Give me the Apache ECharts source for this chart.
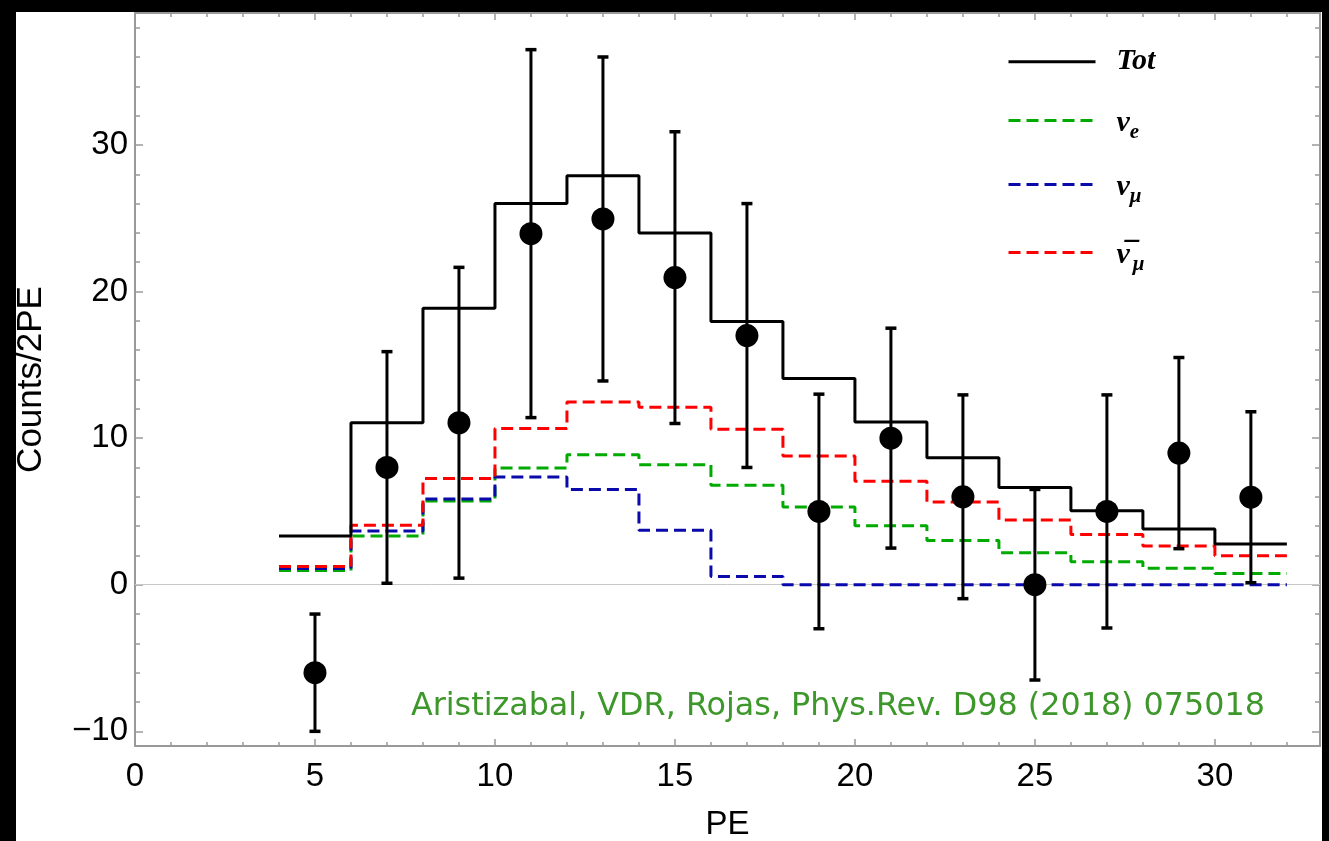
<!DOCTYPE html>
<html><head><meta charset="utf-8">
<script src="https://cdn.jsdelivr.net/npm/echarts@6/dist/echarts.min.js"></script>
<style>
html,body{margin:0;padding:0;background:#000;width:1329px;height:841px;overflow:hidden;}
#chart{position:absolute;left:16px;top:12px;width:1306px;height:829px;background:#fff;}
</style></head><body><div id="chart"></div>
<script>
// ---- data ----
const binEdges = [4, 6, 8, 10, 12, 14, 16, 18, 20, 22, 24, 26, 28, 30, 32];
const totCounts = [3.32, 11.05, 18.86, 26.0, 27.9, 24.0, 17.95, 14.06, 11.1, 8.67, 6.64, 5.05, 3.8, 2.78];
const nuECounts = [0.97, 3.32, 5.71, 7.96, 8.87, 8.19, 6.78, 5.3, 4.02, 3.02, 2.18, 1.57, 1.13, 0.77];
const nuMuCounts = [1.1, 3.66, 5.85, 7.35, 6.5, 3.71, 0.57, 0, 0, 0, 0, 0, 0, 0];
const nuMuBarCounts = [1.25, 4.05, 7.25, 10.65, 12.46, 12.1, 10.6, 8.78, 7.06, 5.64, 4.42, 3.42, 2.64, 1.98];

const dataPE = [5, 7, 9, 11, 13, 15, 17, 19, 21, 23, 25, 27, 29, 31];
const dataCounts = [-6, 8, 11.05, 23.95, 24.95, 20.95, 17, 5, 10, 6, 0, 5, 8.98, 5.97];
const dataErrors = [4, 7.9, 10.6, 12.55, 11.05, 9.95, 9, 8, 7.5, 6.95, 6.5, 7.95, 6.52, 5.83];

const xMajorTicks = [0, 5, 10, 15, 20, 25, 30];
const xMinorTicks = [0,1,2,3,4,5,6,7,8,9,10,11,12,13,14,15,16,17,18,19,20,21,22,23,24,25,26,27,28,29,30,31,32];
const yMajorTicks = [-10, 0, 10, 20, 30];
const yMinorTicks = [-10,-8,-6,-4,-2,0,2,4,6,8,10,12,14,16,18,20,22,24,26,28,30,32,34,36,38];

const legendNames = ['Tot', 'nu_e', 'nu_mu', 'nubar_mu'];
const citation = 'Aristizabal, VDR, Rojas, Phys.Rev. D98 (2018) 075018';

// ---- build ----
function stepData(counts) {
  const d = counts.map((v, i) => [binEdges[i], v]);
  d.push([binEdges[binEdges.length - 1], counts[counts.length - 1]]);
  return d;
}
const frameColor = '#999';
const labelFont = 'Liberation Sans';
const fmt = v => String(v).replace('-', '\u2212');

function xAx(pos, ticks, len, main) {
  return {
    type: 'value', position: pos, min: 0, max: 32.92,
    axisLine: { show: main, onZero: false, lineStyle: { color: frameColor, width: 2 } },
    axisTick: { show: true, inside: true, length: len, customValues: ticks, lineStyle: { color: frameColor, width: 1.5 } },
    axisLabel: { show: main && pos === 'bottom', customValues: xMajorTicks, formatter: fmt, fontSize: 33, color: '#000', margin: 14, fontFamily: labelFont },
    splitLine: { show: false },
    name: (main && pos === 'bottom') ? 'PE' : '',
    nameLocation: 'middle', nameGap: 62,
    nameTextStyle: { fontSize: 33, color: '#000', fontFamily: labelFont }
  };
}
function yAx(pos, ticks, len, main) {
  return {
    type: 'value', position: pos, min: -11, max: 39,
    axisLine: { show: main, onZero: false, lineStyle: { color: frameColor, width: 2 } },
    axisTick: { show: true, inside: true, length: len, customValues: ticks, lineStyle: { color: frameColor, width: 1.5 } },
    axisLabel: { show: main && pos === 'left', customValues: yMajorTicks, formatter: fmt, fontSize: 33, color: '#000', margin: 7, fontFamily: labelFont },
    splitLine: { show: false },
    name: (main && pos === 'left') ? 'Counts/2PE' : '',
    nameLocation: 'middle', nameGap: 86,
    nameTextStyle: { fontSize: 35, color: '#000', fontFamily: labelFont }
  };
}

const dash = [12, 6];
const legendText = {
  'Tot': '{nu|Tot}',
  'nu_e': '{nu|ν}{sub|e}',
  'nu_mu': '{nu|ν}{sub|μ}',
  'nubar_mu': '{nu|ν\u0305}{sp| }{sub|μ}'
};
const legendTops = [34.7, 94, 158, 226];
const richStyles = {
  nu: { fontFamily: 'Liberation Serif', fontSize: 30, lineHeight: 40, fontWeight: 'bold', fontStyle: 'italic', color: '#000' },
  sp: { fontFamily: 'Liberation Serif', fontSize: 12, lineHeight: 40 },
  sub: { fontFamily: 'Liberation Serif', fontSize: 21, lineHeight: 26, verticalAlign: 'bottom', fontWeight: 'bold', fontStyle: 'italic', color: '#000' }
};
const legends = legendNames.map((n, i) => ({
  orient: 'vertical', left: 991, top: legendTops[i], padding: 0,
  itemWidth: 87, itemHeight: 36,
  data: [n],
  formatter: nm => legendText[nm],
  itemStyle: { opacity: 0 },
  lineStyle: { width: 3 },
  textStyle: { padding: [i === 0 ? 0 : 6, 0, 0, 16], color: '#000', rich: richStyles }
}));

const chart = echarts.init(document.getElementById('chart'), null, { renderer: 'canvas' });
chart.setOption({
  animation: false,
  backgroundColor: '#fff',
  grid: { left: 119, right: 2, top: 1, bottom: 95, containLabel: false, outerBoundsMode: 'none' },
  xAxis: [xAx('bottom', xMajorTicks, 7, true), xAx('bottom', xMinorTicks, 4, false),
          xAx('top', xMajorTicks, 7, true), xAx('top', xMinorTicks, 4, false)],
  yAxis: [yAx('left', yMajorTicks, 8, true), yAx('left', yMinorTicks, 5, false),
          yAx('right', yMajorTicks, 8, true), yAx('right', yMinorTicks, 5, false)],
  legend: legends,
  graphic: [{
    type: 'text', x: 1249, y: 695,
    style: { text: citation, fill: '#3d972a', fontSize: 31.8, fontFamily: 'DejaVu Sans', align: 'right', verticalAlign: 'middle' }
  }],
  series: [
    {
      name: 'nu_e', type: 'line', step: 'end', data: stepData(nuECounts), symbol: 'none',
      lineStyle: { color: '#00aa00', width: 3, type: dash }, itemStyle: { color: '#00aa00' },
      markLine: { silent: true, symbol: 'none', label: { show: false }, lineStyle: { color: '#c8c8c8', width: 1, type: 'solid' }, data: [{ yAxis: 0 }], z: 1 },
      z: 3
    },
    {
      name: 'nu_mu', type: 'line', step: 'end', data: stepData(nuMuCounts), symbol: 'none',
      lineStyle: { color: '#0a0aaa', width: 3, type: dash }, itemStyle: { color: '#0a0aaa' }, z: 4
    },
    {
      name: 'nubar_mu', type: 'line', step: 'end', data: stepData(nuMuBarCounts), symbol: 'none',
      lineStyle: { color: '#ff0000', width: 3, type: dash }, itemStyle: { color: '#ff0000' }, z: 5
    },
    {
      name: 'Tot', type: 'line', step: 'end', data: stepData(totCounts), symbol: 'none',
      lineStyle: { color: '#000', width: 3, type: 'solid' }, itemStyle: { color: '#000' }, z: 6
    },
    {
      name: 'errors', type: 'custom', z: 7,
      data: dataPE.map((x, i) => [x, dataCounts[i], dataErrors[i]]),
      renderItem: (params, api) => {
        const x = api.value(0), y = api.value(1), e = api.value(2);
        const t = api.coord([x, y + e]), b = api.coord([x, y - e]);
        const hw = 5.5;
        const st = { stroke: '#000', lineWidth: 3 };
        return { type: 'group', children: [
          { type: 'line', shape: { x1: t[0], y1: t[1], x2: b[0], y2: b[1] }, style: st },
          { type: 'line', shape: { x1: t[0] - hw, y1: t[1], x2: t[0] + hw, y2: t[1] }, style: { stroke: '#000', lineWidth: 3.5 } },
          { type: 'line', shape: { x1: b[0] - hw, y1: b[1], x2: b[0] + hw, y2: b[1] }, style: { stroke: '#000', lineWidth: 3.5 } }
        ] };
      }
    },
    {
      name: 'data', type: 'scatter', z: 8,
      data: dataPE.map((x, i) => [x, dataCounts[i]]),
      symbol: 'circle', symbolSize: 23, itemStyle: { color: '#000', opacity: 1 }
    }
  ]
});
</script></body></html>
